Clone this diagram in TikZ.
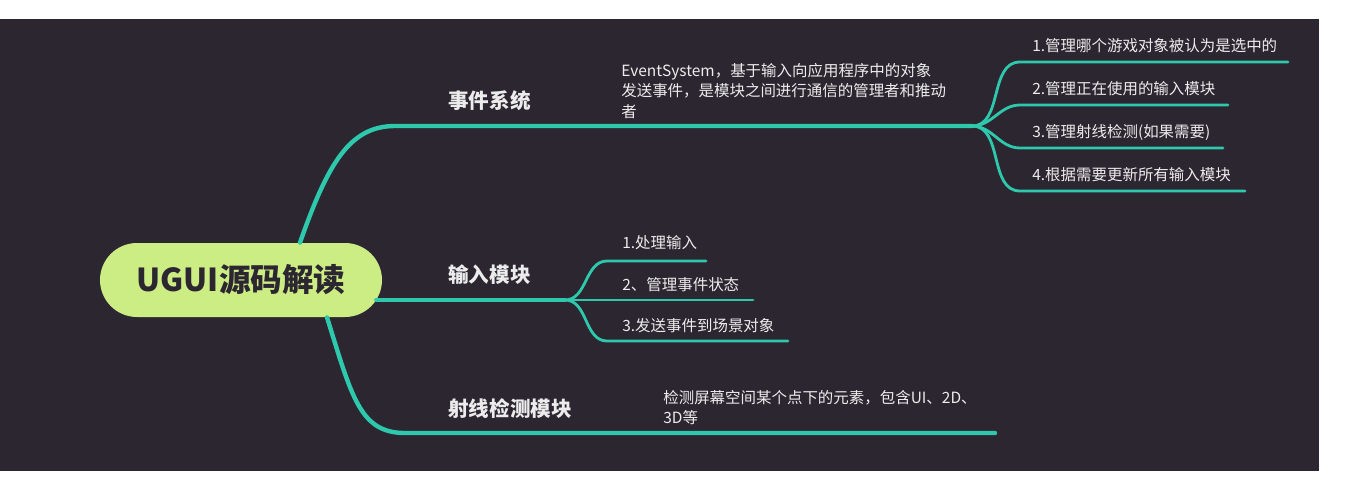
\documentclass[tikz,border=0pt]{standalone}
\usepackage{fontspec}
\setmainfont{Noto Sans CJK SC}
\usepackage{tikz}
\usetikzlibrary{calc}
\definecolor{bgdark}{RGB}{44,38,49}
\definecolor{branchteal}{RGB}{46,200,172}
\definecolor{rootgreen}{RGB}{204,236,132}
\definecolor{lighttext}{RGB}{236,236,236}

\begin{document}
\begin{tikzpicture}[x=0.2mm,y=-0.2mm]
			\tikzstyle{rootbox} = [rectangle, rounded corners=7.4mm, minimum width=56.4mm, minimum height=14.8mm, text centered, fill=rootgreen, text=bgdark, font=\fontsize{18}{20}\selectfont\bfseries]
			\tikzstyle{topic} = [anchor=west, inner sep=0pt, text=lighttext, font=\fontsize{11.7}{14}\selectfont\bfseries]
			\tikzstyle{leaf} = [anchor=west, inner sep=0pt, text=lighttext, font=\fontsize{8.8}{11.6}\selectfont]
			\tikzstyle{note} = [leaf, anchor=north west, align=left]
			\tikzstyle{branch} = [draw=branchteal, line width=2.5pt, line cap=round]
			\tikzstyle{twig} = [draw=branchteal, line width=1.6pt, line cap=round]

			\useasboundingbox (0,0) rectangle (1352,484);
			\fill [white] (0,0) rectangle (1352,484);
			\fill [bgdark] (0,19) rectangle (1319,471);

			\node (root) at (241,280) [rootbox] {UGUI源码解读};

			\node (evt) at (448,101) [topic] {事件系统};
			\node (inp) at (448,275) [topic] {输入模块};
			\node (ray) at (448,409) [topic] {射线检测模块};

			\node (evtnote) at (621,63) [note] {EventSystem，基于输入向应用程序中的对象\\发送事件，是模块之间进行通信的管理者和推动\\者};
			\node (raynote) at (663,390) [note] {检测屏幕空间某个点下的元素，包含UI、2D、\\3D等};

			\node (evt1) at (1032,46) [leaf] {1.管理哪个游戏对象被认为是选中的};
			\node (evt2) at (1032,89) [leaf] {2.管理正在使用的输入模块};
			\node (evt3) at (1032,132) [leaf] {3.管理射线检测(如果需要)};
			\node (evt4) at (1032,175) [leaf] {4.根据需要更新所有输入模块};

			\node (inp1) at (622,243) [leaf] {1.处理输入};
			\node (inp2) at (622,285) [leaf] {2、管理事件状态};
			\node (inp3) at (622,326) [leaf] {3.发送事件到场景对象};

			\coordinate (evtfork) at (972,126);
			\coordinate (inpfork) at (565,300);
			\coordinate (rayend) at (995,433);

			\draw [branch] ($(root.north)+(59,0)$) .. controls +(28,-80) and +(-45,0) .. (395,126) -- (evtfork);
			\draw [branch] ($(root.east)+(-6,20)$) -- (inpfork);
			\draw [branch] ($(root.south)+(86,0)$) .. controls +(25,80) and +(-45,0) .. (405,433) -- (rayend);

			\draw [twig] (evtfork) to[out=0,in=180] (1020,62) -- (1288,62);
			\draw [twig] (evtfork) to[out=0,in=180] (1020,105) -- (1228,105);
			\draw [twig] (evtfork) to[out=0,in=180] (1020,148) -- (1223,148);
			\draw [twig] (evtfork) to[out=0,in=180] (1020,191) -- (1245,191);

			\draw [twig] (inpfork) to[out=0,in=180] (607,261) -- (706,261);
			\draw [twig] (inpfork) -- (753,300);
			\draw [twig] (inpfork) to[out=0,in=180] (607,341) -- (788,341);

		\end{tikzpicture}
\end{document}
